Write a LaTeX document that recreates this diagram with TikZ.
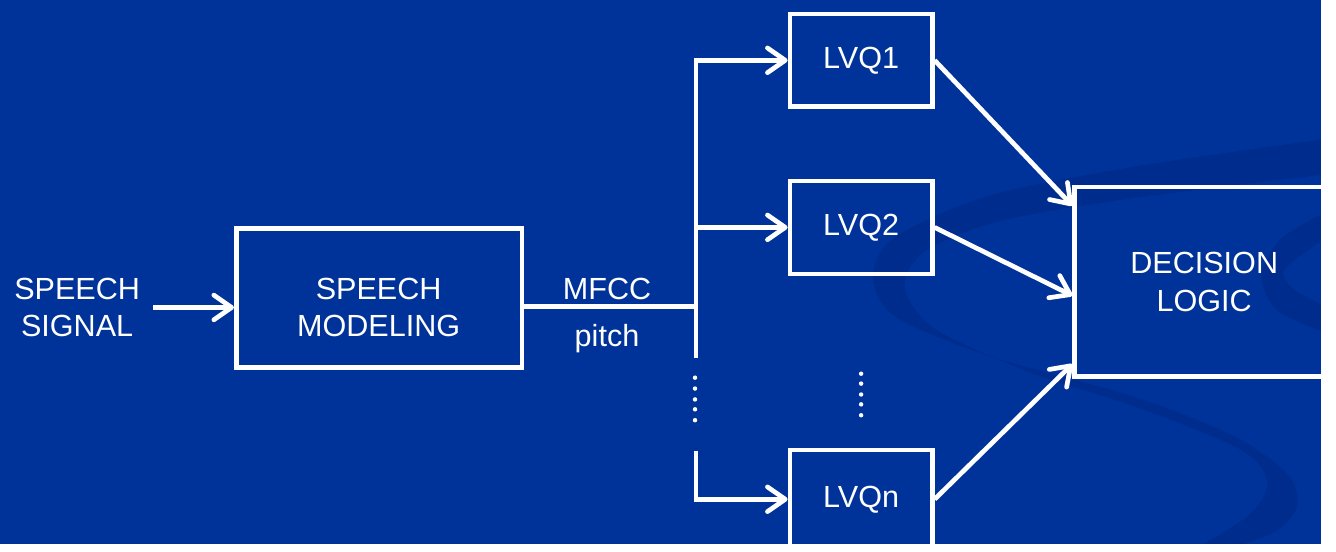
\documentclass[tikz,border=0pt]{standalone}
\usepackage{fontspec}
\setmainfont{Liberation Sans}
\usepackage{xcolor}
\usetikzlibrary{arrows.meta,positioning,calc}
\definecolor{slideblue}{RGB}{0,51,153}
\definecolor{swirl}{RGB}{0,45,141}

\begin{document}
\begin{tikzpicture}[x=0.02cm,y=-0.02cm,
  box/.style={draw=white,line width=0.095cm,text=white,align=center,font=\fontsize{17.6}{21.6}\selectfont,minimum width=2.88cm,minimum height=1.88cm,inner sep=0pt},
  lbl/.style={text=white,align=center,font=\fontsize{17.6}{21.6}\selectfont,inner sep=0.1cm},
  wire/.style={draw=white,line width=0.095cm},
  arr/.style={wire,-{Straight Barb[length=0.36cm,width=0.5cm,round]}},
  dot/.style={circle,fill=white,inner sep=0pt,minimum size=0.09cm}
]
\fill[slideblue] (0,0) rectangle (1336,550);
\begin{scope}
\clip (0,0) rectangle (1336,550);
% background swirl
\fill[swirl] plot[smooth] coordinates {(1345,140) (1150,168) (1000,198) (905,240) (883,280) (905,320) (1000,360) (1150,402) (1250,442) (1303,480) (1312,512) (1290,538) (1240,556)}
  -- plot[smooth] coordinates {(1200,560) (1262,522) (1282,488) (1255,455) (1150,412) (1040,376) (945,332) (915,290) (935,255) (1010,224) (1150,200) (1345,176)} -- cycle;
\fill[swirl] plot[smooth] coordinates {(1345,212) (1295,242) (1276,280) (1293,315) (1345,338)}
  -- plot[smooth] coordinates {(1345,312) (1308,292) (1300,272) (1345,238)} -- cycle;
\end{scope}

\node[lbl] (sig) at (78,311) {SPEECH\\SIGNAL};
\node[box,minimum width=5.78cm,minimum height=2.82cm] (model) at (383.5,301.5) {};
\node[lbl] (modtxt) at (383,311) {SPEECH\\MODELING};
\node[box] (lvq1) at (871,61) {LVQ1};
\node[box] (lvq2) at (871,230) {LVQ2};
\node[box,minimum height=2cm] (lvqn) at (871,505) {LVQn};
\node[box,minimum width=5.24cm,minimum height=3.84cm] (dec) at (1218,285) {DECISION\\LOGIC};
\node[lbl] (mfcc) at (614,292) {MFCC};
\node[lbl] (pitch) at (614,342) {pitch};

\coordinate (split) at (704,310);
\coordinate (busend) at (704,362);
\coordinate (busbtm) at (704,456);

\draw[arr,shorten <=0.16cm] (sig.east) -- (sig.east -| model.west);
\draw[wire] (split -| model.east) -- (split);
\draw[arr] (busend) -- (busend |- lvq1.west) -- (lvq1.west);
\draw[arr] (split |- lvq2.west) -- (lvq2.west);
\draw[arr] (busbtm) -- (busbtm |- lvqn.west) -- (lvqn.west);
\foreach \i/\y in {1/382,2/393,3/404,4/414,5/425}
  \node[dot] (bdot\i) at (703,\y) {};
\foreach \i/\y in {1/378,2/388,3/399,4/409,5/420}
  \node[dot] (cdot\i) at (871,\y) {};

\draw[arr] (lvq1.east) -- (dec.150.5);
\draw[arr] (lvq2.east) -- (dec.186.6);
\draw[arr] (lvqn.east) -- (dec.212.4);
\end{tikzpicture}
\end{document}
